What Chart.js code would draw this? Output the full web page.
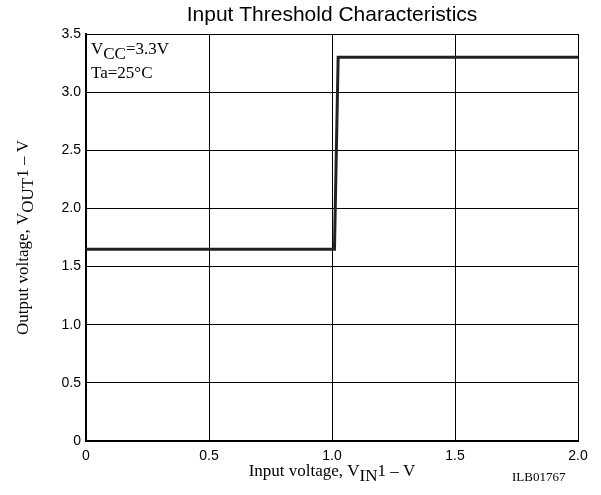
<!DOCTYPE html>
<html>
<head>
<meta charset="utf-8">
<script src="https://cdn.jsdelivr.net/npm/chart.js@4/dist/chart.umd.min.js"></script>
<style>
  html, body { margin: 0; padding: 0; background: #fff; }
  #wrap { width: 601px; height: 495px; position: relative; }
</style>
</head>
<body>
<div id="wrap"><canvas id="chart"></canvas></div>
<script>
// values
var inputVoltage = [0, 1.01, 1.025, 2.0];
var outputVoltage = [1.65, 1.65, 3.3, 3.3];
var xTicks = [0, 0.5, 1.0, 1.5, 2.0];
var yTicks = [0, 0.5, 1.0, 1.5, 2.0, 2.5, 3.0, 3.5];

var serif = '"Liberation Serif", "Times New Roman", serif';
var sans = '"Liberation Sans", Arial, sans-serif';

// draw text made of parts, some lowered as subscripts
function drawRich(ctx, parts, x, y, size, align) {
    ctx.font = size + 'px ' + serif;
    var total = 0;
    parts.forEach(function (p) { total += ctx.measureText(p.t).width; });
    var cx = align === 'center' ? x - total / 2 : x;
    parts.forEach(function (p) {
        ctx.fillText(p.t, cx, y + (p.sub ? size * 0.3 : 0));
        cx += ctx.measureText(p.t).width;
    });
}

var textPlugin = {
    id: 'texts',
    afterDraw: function (chart) {
        var ctx = chart.ctx;
        var area = chart.chartArea;
        ctx.save();
        ctx.fillStyle = '#000';
        ctx.textBaseline = 'alphabetic';

        // title
        ctx.font = '21px ' + sans;
        ctx.textAlign = 'center';
        ctx.fillText('Input Threshold Characteristics', (area.left + area.right) / 2, 21);
        ctx.textAlign = 'left';

        // conditions box
        drawRich(ctx, [{ t: 'V' }, { t: 'CC', sub: true }, { t: '=3.3V' }], area.left + 5, 54, 17, 'left');
        drawRich(ctx, [{ t: 'Ta=25°C' }], area.left + 5, 78, 17, 'left');

        // x axis title
        drawRich(ctx, [{ t: 'Input voltage, V' }, { t: 'IN', sub: true }, { t: '1 – V' }],
            (area.left + area.right) / 2, 476, 17, 'center');

        // figure id
        ctx.font = '13px ' + serif;
        ctx.fillText('ILB01767', 512, 481);

        // y axis title, rotated
        ctx.translate(28, (area.top + area.bottom) / 2);
        ctx.rotate(-Math.PI / 2);
        drawRich(ctx, [{ t: 'Output voltage, V' }, { t: 'OUT', sub: true }, { t: '1 – V' }],
            0, 0, 17, 'center');
        ctx.restore();
    }
};

var ctx = document.getElementById('chart').getContext('2d');
var chart = new Chart(ctx, {
    type: 'scatter',
    data: {
        datasets: [{
            data: inputVoltage.map(function (v, i) { return { x: v, y: outputVoltage[i] }; }),
            showLine: true,
            borderColor: '#222',
            borderWidth: 3,
            pointRadius: 0,
            fill: false,
            tension: 0
        }]
    },
    options: {
        responsive: true,
        maintainAspectRatio: false,
        animation: false,
        layout: { padding: { top: 34, right: 23, left: 0, bottom: 0 } },
        plugins: { legend: { display: false }, tooltip: { enabled: false } },
        scales: {
            x: {
                type: 'linear',
                min: 0, max: 2.0,
                afterBuildTicks: function (scale) {
                    scale.ticks = xTicks.map(function (v) { return { value: v }; });
                },
                afterFit: function (scale) { scale.height = 54; },
                grid: { color: '#000', lineWidth: 1, drawTicks: false },
                border: { color: '#000', width: 2 },
                ticks: {
                    color: '#000',
                    padding: 7,
                    font: { family: sans, size: 14 },
                    callback: function (v) { return v === 0 ? '0' : v.toFixed(1); }
                }
            },
            y: {
                type: 'linear',
                min: 0, max: 3.5,
                afterBuildTicks: function (scale) {
                    scale.ticks = yTicks.map(function (v) { return { value: v }; });
                },
                afterFit: function (scale) { scale.width = 86; },
                grid: { color: '#000', lineWidth: 1, drawTicks: false },
                border: { color: '#000', width: 2 },
                ticks: {
                    color: '#000',
                    padding: 5,
                    font: { family: sans, size: 14 },
                    callback: function (v) { return v === 0 ? '0' : v.toFixed(1); }
                }
            }
        }
    },
    plugins: [textPlugin]
});
</script>
</body>
</html>
